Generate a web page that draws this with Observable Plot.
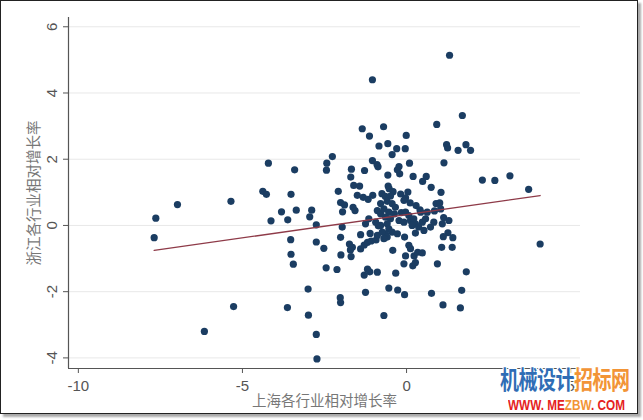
<!DOCTYPE html>
<html>
<head>
<meta charset="utf-8">
<script src="https://cdn.jsdelivr.net/npm/d3@7"></script>
<script src="https://cdn.jsdelivr.net/npm/@observablehq/plot@0.6"></script>
<style>
html, body { margin: 0; padding: 0; background: #fff; }
#wrap { position: relative; width: 643px; height: 420px; overflow: hidden; background: #fff; }
#chart { position: absolute; left: 0; top: 0; }
#border { position: absolute; left: 0; top: 0; width: 636px; height: 412px; border: 1px solid #222; box-shadow: 3px 3px 2px #aaa; pointer-events: none; }
.wm1 { position: absolute; left: 500px; top: 366px; font-family: "Noto Sans CJK SC", sans-serif; font-weight: bold; font-size: 19px; letter-spacing: -0.5px; transform: scaleY(1.3); transform-origin: left top; white-space: nowrap; text-shadow: 1px 1px 0 #fff, -1px -1px 0 #fff, 1px -1px 0 #fff, -1px 1px 0 #fff; line-height: 1; }
.wm2 { position: absolute; left: 508px; top: 397px; font-family: "Liberation Sans", sans-serif; font-weight: bold; font-size: 14px; transform: scale(0.84, 1.05); transform-origin: left top; white-space: nowrap; line-height: 1; }
</style>
</head>
<body>
<div id="wrap">
  <div id="chart"></div>
  <div id="border"></div>
  <div class="wm1"><span style="color:#2f6db5">机械设计</span><span style="color:#f29436">招标网</span></div>
  <div class="wm2"><span style="color:#e52222">WWW. ME</span><span style="color:#f29436">ZBW</span><span style="color:#e52222">. COM</span></div>
</div>
<script>
// Data
const xLabel = "上海各行业相对增长率";
const yLabel = "浙江各行业相对增长率";
const xTicks = [-10, -5, 0, 5];
const yTicks = [-4, -2, 0, 2, 4, 6];
const xDomain = [-10.3, 5.3];
const yDomain = [-4.32, 6.28];

const xVals = [
  -7.69, -7.64, -6.98, -6.16, -5.35, -5.27, -4.38, -4.27, -4.21, -4.13,
  -3.81, -3.62, -3.63, -3.52, -3.53, -3.52, -3.45, -3.41, -3.36, -3.00,
  -2.99, -2.95, -2.89, -2.75, -2.75, -2.75, -2.73, -2.52, -2.45, -2.43,
  -2.44, -2.26, -2.12, -2.08, -2.01, -1.96, -2.02, -2.01, -2.00, -2.01,
  -1.89, -1.95, -1.68, -1.70, -1.74, -1.65, -1.71, -1.69, -1.61, -1.43,
  -1.63, -1.57, -1.50, -1.32, -1.17, -1.03, -1.40, -1.40, -1.29, -1.19,
  -1.08, -0.93, -1.11, -0.89, -0.86, -1.35, -1.04, -1.13, -0.70, -0.84,
  -0.57, -0.30, -0.44, -1.04, -0.90, -0.87, -1.28, -0.57, -0.23, -0.28,
  -0.21, -0.04, -0.01, 0.09, 0.20, 0.49, 0.60, -0.56, -0.53, -0.41,
  -0.75, -0.65, -0.49, -0.18, 0.04, -0.03, 0.75, 1.05, -0.79, -0.59,
  -0.89, -0.79, -0.69, -0.54, -0.64, -0.49, -1.15, -1.25, -0.94, -0.79,
  -0.59, -0.54, -0.44, -0.64, -0.74, -0.59, -0.69, 0.11, 0.29, 0.41,
  -0.44, -0.34, -0.37, -0.16, -0.03, 0.07, 0.43, 0.63, 0.85, 0.90,
  1.01, 1.04, 1.13, 1.29, 1.09, 1.26, 1.12, 1.41, 1.07, 1.39,
  -0.23, -0.08, 0.12, 0.27, 0.48, 0.37, 0.53, 0.73, 0.83, -0.28,
  -0.06, 0.27, 0.07, 0.12, -0.42, -0.03, 0.23, 0.34, 0.48, -0.08,
  0.19, 0.27, 0.94, -0.33, -1.29, -1.19, -1.12, -0.89, -1.25, -0.69,
  -0.54, -0.27, -0.06, 0.76, 1.11, 1.64, 1.68, 1.82, 4.07, 1.31,
  1.70, 0.92, 1.22, 1.25, 1.57, 1.81, 1.95, 1.14, 2.31, 2.69,
  3.15, 3.72, -0.08, 0.22, 0.58, 0.17
];
const yVals = [
  -0.37, 0.22, 0.63, -3.20, 0.73, -2.45, 1.03, 0.94, 1.88, 0.14,
  0.41, 0.17, -2.48, 0.94, -0.43, -0.87, -1.17, 1.68, 0.46, -1.92,
  -2.71, 0.26, 0.46, 0.02, -0.50, -3.29, -4.03, -0.69, -1.28, 1.88,
  1.67, 2.08, -1.33, 1.03, -0.36, -0.05, -2.18, -2.33, -0.89, 0.69,
  0.62, 0.41, 1.70, 1.46, -0.56, -0.66, -0.74, -0.94, 1.21, 1.19,
  0.55, 0.45, 0.91, 0.85, 0.79, 0.91, -0.28, -0.71, -0.59, -0.51,
  -0.47, -0.44, -0.24, -0.30, -0.01, 2.92, 4.40, 2.70, 2.98, 2.40,
  2.47, 2.32, 2.14, 1.96, 1.84, 1.77, 1.66, 1.52, 1.78, 1.68,
  1.56, 2.32, 2.72, 1.88, 1.48, 1.33, 1.48, 1.19, 1.11, 1.02,
  0.96, 0.88, 0.89, 0.95, 1.01, 0.83, 1.15, 1.00, 0.66, 0.73,
  0.45, 0.35, 0.50, 0.40, 0.25, 0.20, 0.20, 0.05, 0.10, 0.00,
  0.05, -0.10, -0.20, -0.25, -0.20, -0.35, -0.40, 0.68, 0.60, 0.47,
  0.66, 0.55, 0.35, 0.39, 0.40, 0.30, 0.40, 0.40, 0.44, 0.66,
  0.68, 0.50, 0.24, 0.15, 0.05, -0.22, -0.34, -0.37, -0.66, -0.66,
  0.15, 0.10, 0.15, 0.05, 0.10, -0.05, -0.15, -0.05, 0.10, -0.25,
  -0.35, -0.23, -0.60, -0.70, -0.75, -0.92, -0.92, -0.81, -0.83, -1.16,
  -1.22, -1.12, -1.16, -1.44, -1.50, -1.32, -1.40, -1.41, -2.02, -2.72,
  -1.89, -1.95, -2.09, -2.05, -2.40, -2.49, -1.96, -1.40, -0.56, 5.14,
  3.32, 3.05, 2.44, 2.34, 2.27, 2.44, 2.27, 1.89, 1.37, 1.36,
  1.50, 1.09, 0.76, 0.20, 0.20, 0.00
];
// Linear fit (as shown in the reference)
const fitIntercept = 0.33;
const fitSlope = 0.141;

const points = xVals.map((x, i) => ({x, y: yVals[i]}));
const fitLine = d3.extent(xVals).map(x => ({x, y: fitIntercept + fitSlope * x}));

const axisColor = "#555";
const chart = Plot.plot({
  width: 643,
  height: 420,
  marginLeft: 68,
  marginRight: 63,
  marginTop: 17,
  marginBottom: 52,
  x: {domain: xDomain},
  y: {domain: yDomain},
  style: {fontFamily: "'Liberation Sans', Arial, sans-serif", fontSize: "15px", color: axisColor, background: "transparent", overflow: "visible"},
  marks: [
    Plot.gridY(yTicks, {stroke: "#e8e8e8", strokeOpacity: 1, strokeWidth: 1}),
    Plot.axisX(xTicks, {tickSize: 5, tickPadding: 7, tickFormat: d => `${d}`, label: null, stroke: axisColor, fill: axisColor}),
    Plot.axisY(yTicks, {tickSize: 5, tickFormat: () => "", label: null, stroke: axisColor}),
    Plot.text(yTicks, {x: () => xDomain[0], y: d => d, text: d => `${d}`, rotate: -90, dx: -16, lineAnchor: "middle", textAnchor: "middle", fill: axisColor, fontSize: 15}),
    Plot.ruleX([xDomain[0]], {stroke: axisColor, strokeWidth: 1.2}),
    Plot.ruleY([yDomain[0]], {stroke: axisColor, strokeWidth: 1.2}),
    Plot.dot(points, {x: "x", y: "y", r: 3.6, fill: "#1b3d62", stroke: "none"}),
    Plot.line(fitLine, {x: "x", y: "y", stroke: "#8e3a48", strokeWidth: 1.3}),
    Plot.text([xLabel], {frameAnchor: "bottom", dy: 37, text: d => d, fontFamily: "'Noto Sans CJK SC', sans-serif", fontSize: 14.5, fill: "#777"}),
    Plot.text([yLabel], {frameAnchor: "left", dx: -34, rotate: -90, textAnchor: "middle", lineAnchor: "middle", text: d => d, fontFamily: "'Noto Sans CJK SC', sans-serif", fontSize: 14.5, fill: "#777"})
  ]
});
document.getElementById("chart").appendChild(chart);
</script>
</body>
</html>
